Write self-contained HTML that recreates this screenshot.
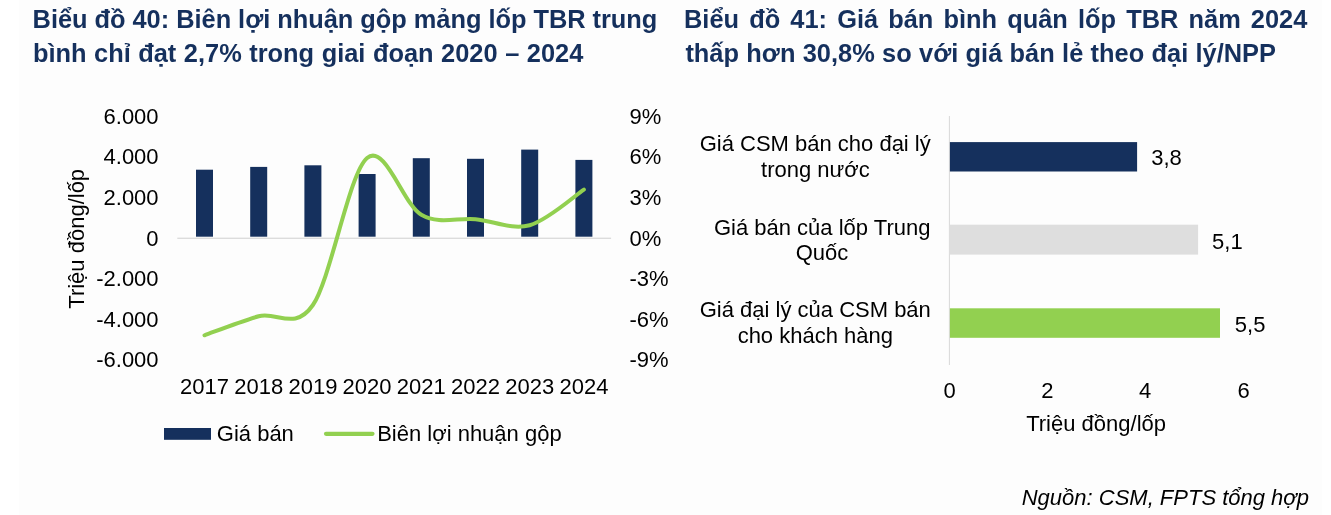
<!DOCTYPE html>
<html><head><meta charset="utf-8"><style>
html,body{margin:0;padding:0;background:#fff;}
body{width:1331px;height:515px;overflow:hidden;position:relative;}
#bg{position:absolute;left:19px;top:0;width:1303px;height:515px;background:#fdfdfd;}
svg{position:absolute;left:0;top:0;will-change:transform;}
text{font-family:"Liberation Sans",sans-serif;font-size:22px;fill:#000;}
text.t{font-weight:bold;font-size:25.4px;fill:#15305d;}
</style></head><body>
<div id="bg"></div>
<svg width="1331" height="515" viewBox="0 0 1331 515">
<rect x="177.3" y="237.7" width="433.8" height="1.1" fill="#d4d4d4"/>
<rect x="196.00" y="169.7" width="17" height="67.00" fill="#15305d"/>
<rect x="250.20" y="166.9" width="17" height="69.80" fill="#15305d"/>
<rect x="304.40" y="165.3" width="17" height="71.40" fill="#15305d"/>
<rect x="358.60" y="174.0" width="17" height="62.70" fill="#15305d"/>
<rect x="412.80" y="158.2" width="17" height="78.50" fill="#15305d"/>
<rect x="467.00" y="158.8" width="17" height="77.90" fill="#15305d"/>
<rect x="521.20" y="149.6" width="17" height="87.10" fill="#15305d"/>
<rect x="575.40" y="159.9" width="17" height="76.80" fill="#15305d"/>
<path d="M204.50,335.30 C213.53,332.13 240.63,321.35 258.70,316.30 C276.77,311.25 294.83,331.38 312.90,305.00 C330.97,278.62 349.03,173.03 367.10,158.00 C385.17,142.97 403.23,204.60 421.30,214.80 C439.37,225.00 457.43,217.47 475.50,219.20 C493.57,220.93 511.63,230.13 529.70,225.20 C547.77,220.27 574.87,195.53 583.90,189.60" fill="none" stroke="#92d050" stroke-width="4" stroke-linecap="round" stroke-linejoin="round"/>
<text x="158.6" y="123.80" text-anchor="end">6.000</text>
<text x="629.4" y="123.80">9%</text>
<text x="158.6" y="164.40" text-anchor="end">4.000</text>
<text x="629.4" y="164.40">6%</text>
<text x="158.6" y="205.00" text-anchor="end">2.000</text>
<text x="629.4" y="205.00">3%</text>
<text x="158.6" y="245.60" text-anchor="end">0</text>
<text x="629.4" y="245.60">0%</text>
<text x="158.6" y="286.20" text-anchor="end">-2.000</text>
<text x="629.4" y="286.20">-3%</text>
<text x="158.6" y="326.80" text-anchor="end">-4.000</text>
<text x="629.4" y="326.80">-6%</text>
<text x="158.6" y="367.40" text-anchor="end">-6.000</text>
<text x="629.4" y="367.40">-9%</text>
<text x="204.50" y="393.6" text-anchor="middle">2017</text>
<text x="258.70" y="393.6" text-anchor="middle">2018</text>
<text x="312.90" y="393.6" text-anchor="middle">2019</text>
<text x="367.10" y="393.6" text-anchor="middle">2020</text>
<text x="421.30" y="393.6" text-anchor="middle">2021</text>
<text x="475.50" y="393.6" text-anchor="middle">2022</text>
<text x="529.70" y="393.6" text-anchor="middle">2023</text>
<text x="583.90" y="393.6" text-anchor="middle">2024</text>
<text transform="translate(84,238.8) rotate(-90)" text-anchor="middle">Triệu đồng/lốp</text>
<rect x="164" y="428" width="47" height="11.8" fill="#15305d"/>
<text x="216.8" y="440.8">Giá bán</text>
<line x1="326" y1="433.8" x2="372.5" y2="433.8" stroke="#92d050" stroke-width="4.2" stroke-linecap="round"/>
<text x="377.2" y="441.3">Biên lợi nhuận gộp</text>
<rect x="948.9" y="116" width="1" height="249" fill="#d9d9d9"/>
<rect x="949.9" y="142.1" width="187.20" height="29.40" fill="#15305d"/>
<text x="1151.2" y="165.4">3,8</text>
<rect x="949.9" y="224.7" width="248.20" height="29.90" fill="#dedede"/>
<text x="1212.1" y="248.6">5,1</text>
<rect x="949.9" y="308.3" width="270.10" height="29.50" fill="#92d050"/>
<text x="1234.8" y="332.1">5,5</text>
<text x="949.6" y="397.6" text-anchor="middle">0</text>
<text x="1047.4" y="397.6" text-anchor="middle">2</text>
<text x="1145.2" y="397.6" text-anchor="middle">4</text>
<text x="1243.7" y="397.6" text-anchor="middle">6</text>
<text x="1096.1" y="431" text-anchor="middle">Triệu đồng/lốp</text>
<text x="815.2" y="151.3" text-anchor="middle">Giá CSM bán cho đại lý</text>
<text x="815.4" y="176.7" text-anchor="middle">trong nước</text>
<text x="822.2" y="235" text-anchor="middle">Giá bán của lốp Trung</text>
<text x="822.0" y="260.3" text-anchor="middle">Quốc</text>
<text x="815.3" y="317.3" text-anchor="middle">Giá đại lý của CSM bán</text>
<text x="815.3" y="342.6" text-anchor="middle">cho khách hàng</text>
<text x="1308.9" y="504.8" text-anchor="end" font-style="italic">Nguồn: CSM, FPTS tổng hợp</text>
<text class="t" x="32.6" y="27.7" style="word-spacing:-0.12px">Biểu đồ 40: Biên lợi nhuận gộp mảng lốp TBR trung</text>
<text class="t" x="32.9" y="61.5" style="word-spacing:0.48px">bình chỉ đạt 2,7% trong giai đoạn 2020 – 2024</text>
<text class="t" x="684.0" y="27.7" style="word-spacing:3.08px">Biểu đồ 41: Giá bán bình quân lốp TBR năm 2024</text>
<text class="t" x="685.4" y="61.5" style="word-spacing:0.28px">thấp hơn 30,8% so với giá bán lẻ theo đại lý/NPP</text>
</svg>
</body></html>
